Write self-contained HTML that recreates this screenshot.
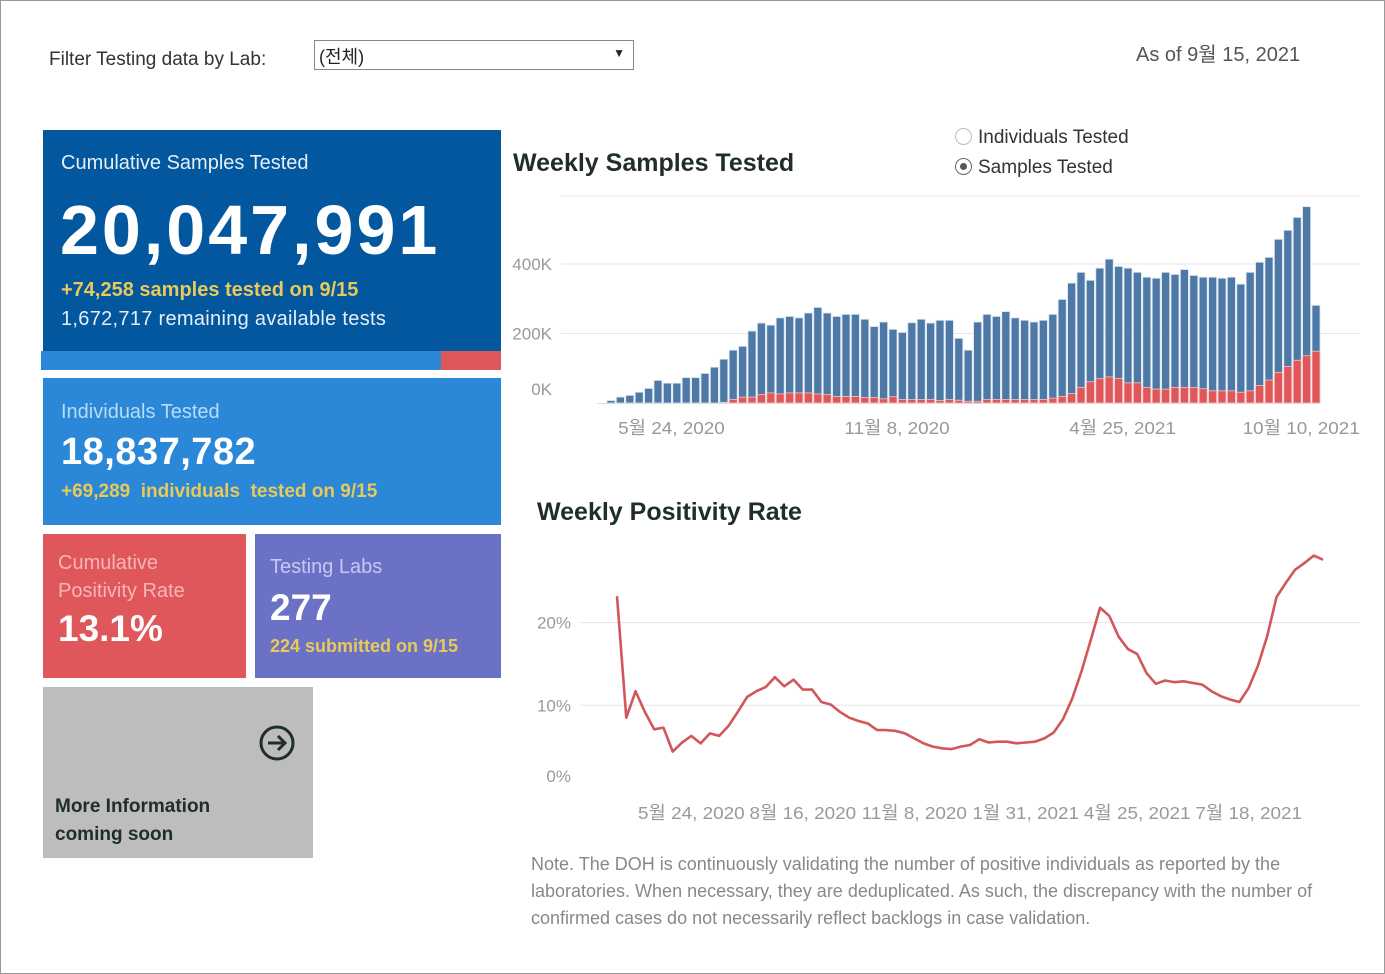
<!DOCTYPE html>
<html><head><meta charset="utf-8">
<style>
body{margin:0;background:#fff;font-family:"Liberation Sans","Noto Sans CJK KR",sans-serif;}
#root{position:relative;width:1385px;height:974px;box-shadow:inset 0 0 0 1px #999;overflow:hidden;background:#fff}
.a{position:absolute;white-space:nowrap}
</style></head><body>
<div id="root">
<div class="a" style="left:49px;top:49px;font-size:19px;color:#333">Filter Testing data by Lab:</div>
<div class="a" style="left:314px;top:40px;width:320px;height:30px;border:1px solid #888;font-size:18px;color:#222;box-sizing:border-box;padding:2px 4px">(전체)<span style="position:absolute;right:8px;top:5px;font-size:12px">▼</span></div>
<div class="a" style="left:1136px;top:38px;font-size:20px;color:#555">As of 9월 15, 2021</div>

<div class="a" style="left:43px;top:130px;width:458px;height:221px;background:#02579e"></div>
<div class="a" style="left:61px;top:152px;font-size:20px;color:#e8eef6">Cumulative Samples Tested</div>
<div class="a" style="left:60px;top:190px;font-size:70px;letter-spacing:3px;font-weight:bold;color:#fff">20,047,991</div>
<div class="a" style="left:61px;top:279px;font-size:20px;font-weight:bold;color:#e8c95a">+74,258 samples tested on 9/15</div>
<div class="a" style="left:61px;top:308px;font-size:20px;color:#e8eef6;letter-spacing:0.3px">1,672,717 remaining available tests</div>
<div class="a" style="left:41px;top:351px;width:400px;height:19px;background:#2b87d8"></div>
<div class="a" style="left:441px;top:351px;width:60px;height:19px;background:#e0575b"></div>

<div class="a" style="left:43px;top:378px;width:458px;height:147px;background:#2b87d8"></div>
<div class="a" style="left:61px;top:401px;font-size:20px;color:#b9dcf7">Individuals Tested</div>
<div class="a" style="left:61px;top:431px;font-size:38px;letter-spacing:0.5px;font-weight:bold;color:#fff">18,837,782</div>
<div class="a" style="left:61px;top:481px;font-size:19px;font-weight:bold;color:#e8c95a">+69,289&nbsp; individuals&nbsp; tested on 9/15</div>

<div class="a" style="left:43px;top:534px;width:203px;height:144px;background:#e0575b"></div>
<div class="a" style="left:58px;top:549px;font-size:20px;line-height:28px;color:#f7b6b4">Cumulative<br>Positivity Rate</div>
<div class="a" style="left:58px;top:608px;font-size:37px;font-weight:bold;color:#fff">13.1%</div>

<div class="a" style="left:255px;top:534px;width:246px;height:144px;background:#6b72c5"></div>
<div class="a" style="left:270px;top:556px;font-size:20px;color:#c4c8f2">Testing Labs</div>
<div class="a" style="left:270px;top:587px;font-size:37px;font-weight:bold;color:#fff">277</div>
<div class="a" style="left:270px;top:636px;font-size:18px;font-weight:bold;color:#e8c95a">224 submitted on 9/15</div>

<div class="a" style="left:43px;top:687px;width:270px;height:171px;background:#bdbdbd"></div>
<svg class="a" style="left:258px;top:724px" width="38" height="38"><circle cx="19" cy="19" r="16" fill="none" stroke="#1f2d2b" stroke-width="3"/><path d="M10 19H27M20 12L27 19L20 26" fill="none" stroke="#1f2d2b" stroke-width="3"/></svg>
<div class="a" style="left:55px;top:793px;font-size:19px;line-height:28px;font-weight:bold;color:#1f2d2b">More Information<br>coming soon</div>

<div class="a" style="left:513px;top:149px;font-size:25px;font-weight:bold;color:#1f2d2b">Weekly Samples Tested</div>
<div class="a" style="left:955px;top:127px;font-size:19px;color:#333"><span style="display:inline-block;width:15px;height:15px;border:1.5px solid #bbb;border-radius:50%;vertical-align:-2px;margin-right:6px"></span>Individuals Tested</div>
<div class="a" style="left:955px;top:157px;font-size:19px;color:#333"><span style="display:inline-block;width:15px;height:15px;border:1.5px solid #666;border-radius:50%;vertical-align:-2px;margin-right:6px;position:relative"><span style="position:absolute;left:4px;top:4px;width:7px;height:7px;background:#555;border-radius:50%"></span></span>Samples Tested</div>

<svg class="a" id="bars" style="left:0;top:0" width="1385" height="450"></svg>

<div class="a" style="left:537px;top:498px;font-size:25px;font-weight:bold;color:#1f2d2b">Weekly Positivity Rate</div>
<svg class="a" id="line" style="left:0;top:450px" width="1385" height="380"></svg>

<div class="a" style="left:531px;top:851px;font-size:18px;line-height:27px;color:#888;white-space:normal;width:840px">Note. The DOH is continuously validating the number of positive individuals as reported by the laboratories. When necessary, they are deduplicated. As such, the discrepancy with the number of confirmed cases do not necessarily reflect backlogs in case validation.</div>
</div>
<script>
const sampleTotals=[7,17,22,31,42,65,57,57,73,73,85,103,126,152,163,207,230,224,245,249,245,259,275,259,249,255,255,241,220,233,212,203,231,241,230,238,238,186,152,233,255,249,263,245,238,233,238,255,298,345,376,353,388,414,393,388,376,362,359,376,370,384,367,362,362,359,362,342,376,405,419,471,497,534,565,281];
const samplePositive=[0,0,0,0,0,0,0,0,0,0,0,0,2,10,17,17,24,29,26,29,29,29,26,24,19,19,19,16,16,12,18,10,10,10,10,7,10,8,5,5,10,10,10,10,10,10,10,14,19,27,45,61,70,75,71,58,58,45,40,40,45,45,45,41,35,35,35,31,35,50,66,88,105,123,136,149,72];
const barTicks=[0,200,400];
const barTickLabels=["0K","200K","400K"];
const barDateLabels=["5월 24, 2020","11월 8, 2020","4월 25, 2021","10월 10, 2021"];
const barDateIdx=[6,30,54,73];
const positivity=[23.2,8.5,11.7,9.2,7.1,7.3,4.4,5.5,6.3,5.4,6.6,6.3,7.5,9.2,11.0,11.7,12.2,13.4,12.3,13.1,11.9,11.9,10.4,10.1,9.2,8.5,8.1,7.8,7.0,7.0,6.9,6.6,6.0,5.4,5.0,4.8,4.7,5.0,5.2,5.9,5.5,5.6,5.6,5.4,5.5,5.6,6.0,6.7,8.3,10.8,14.1,17.9,21.8,20.8,18.3,16.8,16.2,13.9,12.6,13.0,12.8,12.9,12.7,12.5,11.7,11.1,10.7,10.4,12.1,14.8,18.4,23.1,24.8,26.4,27.2,28.1,27.6];
const lineTicks=[0,10,20];
const lineTickLabels=["0%","10%","20%"];
const lineDateLabels=["5월 24, 2020","8월 16, 2020","11월 8, 2020","1월 31, 2021","4월 25, 2021","7월 18, 2021"];
const lineDateIdx=[8,20,32,44,56,68];
const NS="http://www.w3.org/2000/svg";
function mk(p,t,a){const e=document.createElementNS(NS,t);for(const k in a)e.setAttribute(k,a[k]);p.appendChild(e);return e;}
// bar chart
const bs=document.getElementById('bars');
const bx0=607,bpitch=(1312-607)/75,bw=8;
const bX=i=>bx0+i*bpitch;
const bY=v=>403-v*0.3475;
let g=mk(bs,'line',{x1:561,x2:1360,y1:196,y2:196,stroke:'#e6e6e6'});

barTicks.forEach((t,i)=>{
 if(t>0){const l=mk(bs,'line',{x1:561,x2:1360,y1:bY(t),y2:bY(t),stroke:'#e6e6e6'});
 }
 const tx=mk(bs,'text',{x:552,y:(t===0?bY(t)-8:bY(t)+6),'text-anchor':'end','font-size':17,fill:'#999','font-family':'Liberation Sans, sans-serif'});
 tx.textContent=barTickLabels[i];
 
});
sampleTotals.forEach((v,i)=>{
 const r=mk(bs,'rect',{x:bX(i),y:bY(v),width:bw,height:403-bY(v),fill:'#4e79a7',stroke:'#d6e4ef','stroke-width':0.8});
 
 const p=samplePositive[i];
 if(p>0){const q=mk(bs,'rect',{x:bX(i),y:bY(p),width:bw,height:403-bY(p),fill:'#e15759',stroke:'#f2c6c6','stroke-width':0.8});
 }
});
const bl=mk(bs,'line',{x1:597,x2:1320,y1:403.5,y2:403.5,stroke:'#ddd'});

barDateLabels.forEach((s,i)=>{
 const tx=mk(bs,'text',{transform:'translate('+(bX(barDateIdx[i])+8)+',434) scale(1.05,1)','text-anchor':'middle','font-size':18,fill:'#999','font-family':'Liberation Sans, Noto Sans CJK KR, sans-serif'});
 tx.textContent=s;
});
// line chart (offset 450)
const ls=document.getElementById('line');
const lX=i=>617+i*(1323-617)/(positivity.length-1);
const lY=v=>788-450-v*8.27;
lineTicks.forEach((t,i)=>{
 if(t>0){const l=mk(ls,'line',{x1:580,x2:1360,y1:lY(t),y2:lY(t),stroke:'#e6e6e6'});
 }
 const tx=mk(ls,'text',{x:571,y:(t===0?lY(t)-6:lY(t)+6),'text-anchor':'end','font-size':17,fill:'#999','font-family':'Liberation Sans, sans-serif'});
 tx.textContent=lineTickLabels[i];
});
const pl=mk(ls,'polyline',{points:positivity.map((v,i)=>lX(i)+','+lY(v)).join(' '),fill:'none',stroke:'#d1575b','stroke-width':2.6,'stroke-linejoin':'round'});

lineDateLabels.forEach((s,i)=>{
 const tx=mk(ls,'text',{transform:'translate('+lX(lineDateIdx[i])+',369) scale(1.05,1)','text-anchor':'middle','font-size':18,fill:'#999','font-family':'Liberation Sans, Noto Sans CJK KR, sans-serif'});
 tx.textContent=s;
});
</script>
</body></html>
